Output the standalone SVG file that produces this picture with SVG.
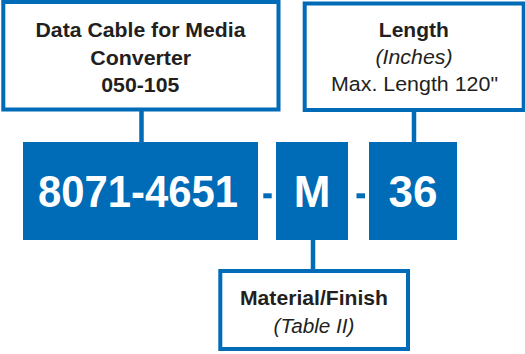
<svg xmlns="http://www.w3.org/2000/svg" width="525" height="354" viewBox="0 0 525 354">
<style>
.box{fill:#fff;stroke:#006bb6;stroke-width:4}
.code{fill:#006bb6}
.conn{stroke:#006bb6;stroke-width:4.5;fill:none}
.t{font-family:"Liberation Sans",Arial,sans-serif;font-size:20.5px;fill:#231f20;text-anchor:middle}
.b{font-weight:bold}
.i{font-style:italic}
.w{font-family:"Liberation Sans",Arial,sans-serif;font-size:44px;font-weight:bold;fill:#fff;text-anchor:middle}
</style>
<g id="connectors">
<line class="conn" x1="141.5" y1="109" x2="141.5" y2="142"/>
<line class="conn" x1="414" y1="110" x2="414" y2="142"/>
<line class="conn" x1="313" y1="240" x2="313" y2="271"/>
</g>
<g id="node-cable">
<rect class="box" x="3.3" y="2" width="275.2" height="107.5"/>
<text class="t b" x="140.5" y="37" textLength="210" lengthAdjust="spacingAndGlyphs">Data Cable for Media</text>
<text class="t b" x="140.7" y="64.5" textLength="101" lengthAdjust="spacingAndGlyphs">Converter</text>
<text class="t b" x="140.3" y="91.5" textLength="78" lengthAdjust="spacingAndGlyphs">050-105</text>
</g>
<g id="node-length">
<rect class="box" x="304.7" y="3.5" width="219" height="106.5"/>
<text class="t b" x="413.8" y="36.5" textLength="70" lengthAdjust="spacingAndGlyphs">Length</text>
<text class="t i" x="414" y="63.5" textLength="77" lengthAdjust="spacingAndGlyphs">(Inches)</text>
<text class="t" x="414.5" y="91" textLength="167" lengthAdjust="spacingAndGlyphs">Max. Length 120"</text>
</g>
<g id="node-material">
<rect class="box" x="220.3" y="271" width="187.7" height="78"/>
<text class="t b" x="314" y="304.5" textLength="148" lengthAdjust="spacingAndGlyphs">Material/Finish</text>
<text class="t i" x="314" y="332.5" textLength="81" lengthAdjust="spacingAndGlyphs">(Table II)</text>
</g>
<g id="node-part">
<rect class="code" x="23" y="142" width="235" height="98"/>
<text class="w" x="138" y="207" textLength="200" lengthAdjust="spacingAndGlyphs">8071-4651</text>
</g>
<g id="node-m">
<rect class="code" x="276" y="142" width="72" height="98"/>
<text class="w" x="312" y="207">M</text>
</g>
<g id="node-36">
<rect class="code" x="369" y="142" width="88" height="98"/>
<text class="w" x="413" y="207">36</text>
</g>
<g id="dashes">
<rect class="code" x="263.3" y="193.3" width="8.4" height="5"/>
<rect class="code" x="356.5" y="193.3" width="8.5" height="5"/>
</g>
</svg>
